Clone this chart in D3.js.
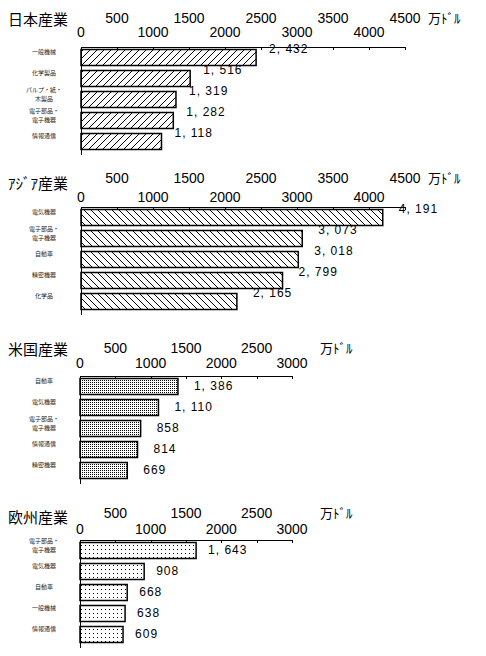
<!DOCTYPE html>
<html>
<head>
<meta charset="utf-8">
<script src="https://cdn.jsdelivr.net/npm/d3@7"></script>
<style>
	body { margin: 0; background: #fff; }
	text { font-family: "Liberation Sans", Arial, sans-serif; fill: #000; }
	.title, .unit, .cat { font-family: "Noto Sans CJK JP", sans-serif; }
	.title { font-size: 15px; }
	.unit { font-size: 13px; }
	.cat { font-size: 6px; fill: #222; }
	.tick-label { font-size: 14px; }
	.value { font-size: 12px; letter-spacing: 1px; }
</style>
</head>
<body>
<svg id="chart"></svg>
<script>
//Values in 万ドル.
const jpCats = ['一般機械', '化学製品', 'パルプ・紙・\n木製品', '電子部品・\n電子機器', '情報通信'];
const jpVals = [2432, 1516, 1319, 1282, 1118];
const asCats = ['電気機器', '電子部品・\n電子機器', '自動車', '精密機器', '化学品'];
const asVals = [4191, 3073, 3018, 2799, 2165];
const usCats = ['自動車', '電気機器', '電子部品・\n電子機器', '情報通信', '精密機器'];
const usVals = [1386, 1110, 858, 814, 669];
const euCats = ['電子部品・\n電子機器', '電気機器', '自動車', '一般機械', '情報通信'];
const euVals = [1643, 908, 668, 638, 609];
//Tick labels.
const ticksWide = [0, 500, 1000, 1500, 2000, 2500, 3000, 3500, 4000, 4500];
const ticksNarrow = [0, 500, 1000, 1500, 2000, 2500, 3000];

const width = 486, height = 656;
const svg = d3.select('#chart')
	.attr('width', width)
	.attr('height', height);

//Fill patterns: hatches for Japan and Asia, stipples for US and Europe.
const defs = svg.append('defs');
defs.append('pattern')
	.attr('id', 'hatchFwd')
	.attr('patternUnits', 'userSpaceOnUse')
	.attr('width', 7).attr('height', 7)
	.append('path')
	.attr('d', 'M0,7 L7,0 M-1,1 L1,-1 M6,8 L8,6')
	.attr('stroke', '#000').attr('stroke-width', 1);
defs.append('pattern')
	.attr('id', 'hatchBack')
	.attr('patternUnits', 'userSpaceOnUse')
	.attr('width', 7).attr('height', 7)
	.append('path')
	.attr('d', 'M0,0 L7,7 M-1,6 L1,8 M6,-1 L8,1')
	.attr('stroke', '#000').attr('stroke-width', 1);
defs.append('pattern')
	.attr('id', 'dotsDense')
	.attr('patternUnits', 'userSpaceOnUse')
	.attr('width', 2).attr('height', 2)
	.append('rect')
	.attr('width', 1).attr('height', 1).attr('fill', '#000');
defs.append('pattern')
	.attr('id', 'dotsSparse')
	.attr('patternUnits', 'userSpaceOnUse')
	.attr('width', 4).attr('height', 4)
	.append('rect')
	.attr('x', 1).attr('y', 1)
	.attr('width', 1).attr('height', 1).attr('fill', '#000');

const fmt = v => d3.format(',')(v).replace(',', ', ');

function renderPanel(p) {
	const g = svg.append('g');
	const x = d3.scaleLinear()
		.domain([0, p.ticks[p.ticks.length - 1]])
		.range([p.x0, p.x1]);
	const y = d3.scaleBand()
		.domain(p.cats)
		.range([p.axisY, p.axisY + 105])
		.paddingInner(0.238)
		.paddingOuter(0.119);
	//Title.
	g.append('text')
		.attr('class', 'title')
		.attr('x', 8)
		.attr('y', p.titleY)
		.text(p.title);
	//Unit.
	g.append('text')
		.attr('class', 'unit')
		.attr('x', p.unitX)
		.attr('y', p.topRowY)
		.text('万ﾄﾞﾙ');
	//Bars.
	g.selectAll('rect.bar')
		.data(p.vals)
		.join('rect')
		.attr('class', 'bar')
		.attr('x', x(0))
		.attr('y', (d, i) => y(p.cats[i]))
		.attr('width', d => x(d) - x(0))
		.attr('height', y.bandwidth())
		.attr('fill', `url(#${p.fill})`)
		.attr('stroke', '#000')
		.attr('stroke-width', 1.5);
	//Top axis with ticks pointing down into the plot.
	const axis = g.append('g')
		.attr('transform', `translate(0, ${p.axisY})`)
		.call(d3.axisTop(x).tickValues(p.ticks).tickSize(-3).tickSizeOuter(0).tickFormat(''));
	axis.selectAll('path, line').attr('stroke', '#000').attr('shape-rendering', 'crispEdges');
	//Tick labels on two rows: odd hundreds above, thousands below.
	g.selectAll('text.tick-label')
		.data(p.ticks)
		.join('text')
		.attr('class', 'tick-label')
		.attr('x', d => x(d))
		.attr('y', d => d % 1000 === 0 ? p.botRowY : p.topRowY)
		.attr('text-anchor', 'middle')
		.text(d => d);
	//Left axis.
	g.append('line')
		.attr('x1', x(0)).attr('x2', x(0))
		.attr('y1', p.axisY)
		.attr('y2', p.axisY + 108)
		.attr('stroke', '#000')
		.attr('shape-rendering', 'crispEdges');
	//Category labels.
	g.selectAll('text.cat')
		.data(p.cats)
		.join('text')
		.attr('class', 'cat')
		.attr('text-anchor', 'middle')
		.attr('y', d => y(d) + 5 - (d.split('\n').length - 1) * 4.4)
		.selectAll('tspan')
		.data(d => d.split('\n'))
		.join('tspan')
		.attr('x', 44)
		.attr('dy', (d, i) => i ? 8.8 : 0)
		.text(d => d);
	//Value labels.
	g.selectAll('text.value')
		.data(p.vals)
		.join('text')
		.attr('class', 'value')
		.attr('x', d => x(d) + p.labelDx)
		.attr('y', (d, i) => y(p.cats[i]) + p.labelDy)
		.text(fmt);
}

renderPanel({title: '日本産業', cats: jpCats, vals: jpVals, ticks: ticksWide, fill: 'hatchFwd',
	x0: 81, x1: 405, axisY: 47, titleY: 25, topRowY: 23, botRowY: 37, unitX: 428, labelDx: 13, labelDy: 4});
renderPanel({title: 'ｱｼﾞｱ産業', cats: asCats, vals: asVals, ticks: ticksWide, fill: 'hatchBack',
	x0: 81, x1: 405, axisY: 207, titleY: 189, topRowY: 183, botRowY: 202, unitX: 428, labelDx: 16, labelDy: 4});
renderPanel({title: '米国産業', cats: usCats, vals: usVals, ticks: ticksNarrow, fill: 'dotsDense',
	x0: 80, x1: 292, axisY: 376, titleY: 355, topRowY: 353, botRowY: 368, unitX: 320, labelDx: 16, labelDy: 12});
renderPanel({title: '欧州産業', cats: euCats, vals: euVals, ticks: ticksNarrow, fill: 'dotsSparse',
	x0: 80, x1: 292, axisY: 540, titleY: 523, topRowY: 518, botRowY: 534, unitX: 320, labelDx: 12, labelDy: 12});
</script>
</body>
</html>
